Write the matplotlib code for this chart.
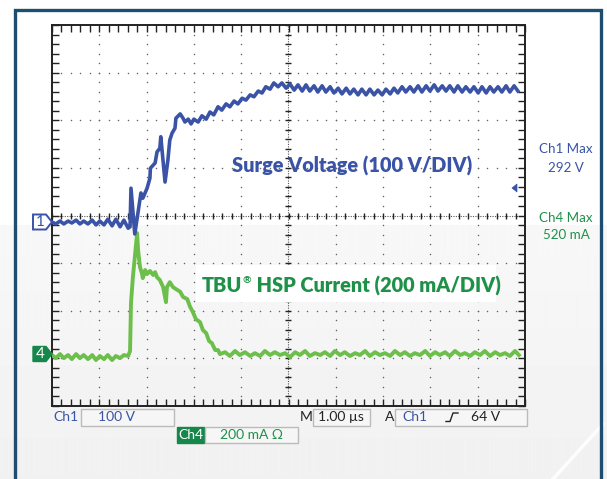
import numpy as np
import matplotlib
matplotlib.use("Agg")
import matplotlib.pyplot as plt
from matplotlib.patches import Rectangle, Polygon

# scope readings: time in us (0 = centre), Ch1 in V, Ch4 in mA
ch1_t = [-5.00, -4.92, -4.83, -4.75, -4.66, -4.58, -4.49, -4.41, -4.33, -4.24,
         -4.15, -4.07, -3.99, -3.90, -3.82, -3.73, -3.65, -3.56, -3.48, -3.39,
         -3.35, -3.33, -3.25, -3.18, -3.12, -3.08, -2.99, -2.93, -2.92, -2.82,
         -2.78, -2.72, -2.70, -2.61, -2.55, -2.51, -2.46, -2.40, -2.38, -2.29,
         -2.23, -2.19, -2.12, -2.06, -2.00, -1.91, -1.83, -1.74, -1.66, -1.58,
         -1.49, -1.41, -1.32, -1.24, -1.15, -1.07, -0.98, -0.90, -0.81, -0.73,
         -0.64, -0.56, -0.48, -0.39, -0.31, -0.22, -0.14, -0.05,
         0.03, 0.12, 0.20, 0.29, 0.37, 0.45, 0.54, 0.62, 0.71, 0.79,
         0.88, 0.96, 1.05, 1.13, 1.22, 1.30, 1.38, 1.47, 1.55, 1.64,
         1.72, 1.81, 1.89, 1.98, 2.06, 2.15, 2.23, 2.31, 2.40, 2.48,
         2.57, 2.65, 2.74, 2.82, 2.91, 2.99, 3.08, 3.16, 3.25, 3.33,
         3.41, 3.50, 3.58, 3.67, 3.75, 3.84, 3.92, 4.01, 4.09, 4.18,
         4.26, 4.34, 4.43, 4.51, 4.60, 4.68, 4.77, 4.85]
ch1_v = [0, -4, 2, -4, 2, -2, 4, -4, 2, -4,
         4, -6, 2, -6, 6, -8, 6, -10, 4, -13,
         -10, 71, -25, 21, 61, 50, 71, 92, 113, 124,
         147, 155, 179, 84, 130, 172, 187, 197, 218, 227,
         218, 210, 216, 206, 216, 210, 223, 216, 231, 225,
         242, 235, 248, 242, 254, 248, 260, 256, 267, 263,
         275, 271, 284, 279, 292, 284, 292, 281,
         290, 277, 288, 275, 288, 275, 286, 273, 286, 273,
         284, 271, 281, 269, 281, 269, 279, 267, 279, 267,
         279, 267, 277, 267, 279, 269, 281, 271, 284, 273,
         284, 273, 286, 273, 286, 275, 288, 275, 286, 275,
         286, 273, 286, 273, 284, 273, 284, 271, 284, 271,
         284, 273, 284, 273, 286, 273, 286, 275]

ch4_t = [-5.00, -4.92, -4.83, -4.75, -4.66, -4.58, -4.49, -4.41, -4.33, -4.24,
         -4.15, -4.07, -3.99, -3.90, -3.82, -3.73, -3.65, -3.56, -3.48,
         -3.39, -3.35, -3.33, -3.29, -3.20, -3.18, -3.14, -3.10, -3.08, -3.03,
         -2.99, -2.93, -2.86, -2.82, -2.78, -2.72, -2.65, -2.59, -2.57, -2.51,
         -2.44, -2.38, -2.29, -2.23, -2.14, -2.08, -2.02, -1.96, -1.87, -1.81,
         -1.74, -1.68, -1.62, -1.55, -1.49, -1.45,
         -1.34, -1.24, -1.13, -1.03, -0.92, -0.81, -0.71, -0.60, -0.50, -0.39,
         -0.29, -0.18, -0.07, 0.03, 0.14, 0.24, 0.35, 0.45, 0.56, 0.67,
         0.77, 0.88, 0.98, 1.09, 1.19, 1.30, 1.41, 1.51, 1.62, 1.72,
         1.83, 1.93, 2.04, 2.15, 2.25, 2.36, 2.46, 2.57, 2.67, 2.78,
         2.89, 2.99, 3.10, 3.20, 3.31, 3.41, 3.52, 3.63, 3.73, 3.84,
         3.94, 4.05, 4.15, 4.26, 4.37, 4.47, 4.58, 4.68, 4.79, 4.87]
ch4_i = [-4, -17, 0, -17, -4, -21, 0, -17, -4, -21,
         -4, -25, -8, -21, -4, -25, -8, -17, -4,
         -8, 13, 214, 323, 508, 437, 365, 340, 319, 353,
         336, 349, 332, 344, 323, 311, 281, 218, 281, 302,
         281, 273, 262, 240, 231, 198, 176, 147, 134, 101,
         88, 55, 46, 17, 17, 0,
         8, -8, 13, -4, 8, -8, 4, -8, 13, -4,
         8, -4, 4, -13, 8, -4, 13, -8, 4, -4,
         8, -8, 13, -4, 8, -8, 4, -4, 13, -8,
         8, -4, 4, -8, 13, -4, 8, -8, 4, -4,
         13, -8, 8, -4, 8, -8, 13, -4, 4, -8,
         8, -4, 13, -8, 8, -4, 4, -8, 13, -4]

ch1_scale = 100.0   # V/div
ch4_scale = 200.0   # mA/div
ch1_pos = -0.137    # div
ch4_pos = -2.91     # div

W, H = 607, 479
BLUE = "#3a53a6"
GREEN_TR = "#6cbf4a"
GREEN_TX = "#1e9148"
FONT = ["Lato", "DejaVu Sans"]


def fx(x):
    return x / W


def fy(y):
    return 1 - y / H


fig = plt.figure(figsize=(W / 100, H / 100), dpi=100)
fig.patch.set_facecolor("white")
renderer = fig.canvas.get_renderer()

# background shading
bg = fig.add_axes([0, 0, 1, 1], zorder=-5)
rows = np.ones(H)
rows[225:] = np.linspace(0.972, 0.945, H - 225)
bg.imshow(np.repeat(rows[:, None], 4, axis=1), cmap="gray", vmin=0, vmax=1,
          aspect="auto", extent=[0, 1, 0, 1])
bg.plot([fx(553), fx(603)], [fy(479), fy(424)], color="white", lw=2.5, alpha=0.9)
bg.set_xlim(0, 1)
bg.set_ylim(0, 1)
bg.axis("off")

# outer frame
fig.add_artist(Rectangle((fx(14.5), fy(490)), fx(601) - fx(14.5), fy(9.5) - fy(490),
                         transform=fig.transFigure, fill=False, ec="#1d4e70", lw=2.4))

ax = fig.add_axes([fx(52), fy(406), fx(525) - fx(52), fy(25) - fy(406)])
ax.set_facecolor("none")
ax.set_xlim(-5, 5)
ax.set_ylim(-4, 4)
for s in ax.spines.values():
    s.set_color("#222222")
    s.set_linewidth(1.4)
ax.set_xticks(np.arange(-5, 5.01, 0.2))
ax.set_yticks(np.arange(-4, 4.01, 0.2))
ax.tick_params(direction="in", length=5, width=1, color="#222222",
               top=True, right=True, labelbottom=False, labelleft=False)

# grid dots
minor_x = np.arange(-5, 5.01, 0.2)
minor_y = np.arange(-4, 4.01, 0.2)
for k in [-4, -3, -2, -1, 1, 2, 3, 4]:
    ax.scatter(np.full(len(minor_y), k), minor_y, s=1.2, color="#666666", lw=0, zorder=1)
for k in [-3, -2, -1, 1, 2, 3]:
    ax.scatter(minor_x, np.full(len(minor_x), k), s=1.2, color="#666666", lw=0, zorder=1)
ax.axhline(0, color="#555555", lw=0.8, ls=(0, (1, 1.2)), zorder=1)
ax.axvline(0, color="#555555", lw=0.8, ls=(0, (1, 1.2)), zorder=1)
ax.plot(minor_x, np.zeros(len(minor_x)), ls="none", marker="|", ms=5, mew=1,
        color="#222222", zorder=1)
ax.plot(np.zeros(len(minor_y)), minor_y, ls="none", marker="_", ms=5, mew=1,
        color="#222222", zorder=1)

# label box behind the current caption
fig.add_artist(Rectangle((fx(196), fy(302)), fx(496) - fx(196), fy(265) - fy(302),
                         transform=fig.transFigure, fc="white", ec="none", zorder=2))

ch1_div = [ch1_pos + v / ch1_scale for v in ch1_v]
ch4_div = [ch4_pos + i / ch4_scale for i in ch4_i]
ax.plot(ch4_t, ch4_div, color=GREEN_TR, lw=2.8, solid_joinstyle="round", zorder=3)
ax.plot(ch1_t, ch1_div, color=BLUE, lw=2.6, solid_joinstyle="round", zorder=4)

cap = 14.3
fig.text(fx(232), fy(166), "Surge Voltage (100 V/DIV)", color=BLUE, fontsize=cap,
         fontweight="heavy", family=FONT, va="center", ha="left", zorder=5)

# TBU(R) caption, with the registered sign raised
t1 = fig.text(fx(202), fy(286), "TBU", color=GREEN_TX, fontsize=cap,
              fontweight="heavy", family=FONT, va="center", ha="left", zorder=5)
x_next = t1.get_window_extent(renderer).x1
t2 = fig.text(x_next / W + 0.001, fy(281), "\u00ae", color=GREEN_TX, fontsize=7.5,
              fontweight="bold", family=FONT, va="center", ha="left", zorder=5)
x_next = t2.get_window_extent(renderer).x1
fig.text(x_next / W, fy(286), " HSP Current (200 mA/DIV)", color=GREEN_TX,
         fontsize=cap, fontweight="heavy", family=FONT, va="center", ha="left", zorder=5)

# channel markers
fig.add_artist(Polygon([(fx(33), fy(214.5)), (fx(46), fy(214.5)), (fx(52), fy(222)),
                        (fx(46), fy(229.5)), (fx(33), fy(229.5))],
                       transform=fig.transFigure, fc="white", ec=BLUE, lw=1.4))
fig.text(fx(40), fy(222), "1", color=BLUE, fontsize=11, family=FONT, ha="center", va="center")
fig.add_artist(Polygon([(fx(33), fy(346.5)), (fx(46), fy(346.5)), (fx(52), fy(354)),
                        (fx(46), fy(361.5)), (fx(33), fy(361.5))],
                       transform=fig.transFigure, fc="#16864a", ec="#16864a", lw=1))
fig.text(fx(40), fy(354), "4", color="white", fontsize=11, family=FONT, ha="center", va="center")

# trigger level marker
fig.add_artist(Polygon([(fx(512), fy(188)), (fx(517), fy(184)), (fx(517), fy(192))],
                       transform=fig.transFigure, fc=BLUE, ec=BLUE, lw=0.5))

# right side readouts
rs = 9.6
fig.text(fx(566), fy(149), "Ch1 Max", color=BLUE, fontsize=rs, family=FONT, ha="center", va="center")
fig.text(fx(566), fy(168), "292 V", color=BLUE, fontsize=rs, family=FONT, ha="center", va="center")
fig.text(fx(566), fy(218), "Ch4 Max", color=GREEN_TX, fontsize=rs, family=FONT, ha="center", va="center")
fig.text(fx(566), fy(235), "520 mA", color=GREEN_TX, fontsize=rs, family=FONT, ha="center", va="center")


def box(x0, y0, x1, y1, fc="#f6f6f6", ec="#bbbbbb"):
    fig.add_artist(Rectangle((fx(x0), fy(y1)), fx(x1) - fx(x0), fy(y0) - fy(y1),
                             transform=fig.transFigure, fc=fc, ec=ec, lw=1))


box(81, 409, 174, 426)
box(313, 409, 370, 426)
box(395, 409, 527, 426)
box(177, 427, 204, 443, fc="#16864a", ec="#16864a")
box(205, 427, 298, 443)
fs = 10
fig.text(fx(53), fy(417), "Ch1", color=BLUE, fontsize=fs, family=FONT, va="center")
fig.text(fx(117), fy(417), "100 V", color=BLUE, fontsize=fs, family=FONT, ha="center", va="center")
fig.text(fx(300), fy(417), "M", color="#222222", fontsize=fs, family=FONT, va="center")
fig.text(fx(341), fy(417), "1.00 \u00b5s", color="#222222", fontsize=fs, family=FONT, ha="center", va="center")
fig.text(fx(385), fy(417), "A", color="#222222", fontsize=fs, family=FONT, va="center")
fig.text(fx(402), fy(417), "Ch1", color=BLUE, fontsize=fs, family=FONT, va="center")
fig.add_artist(plt.Line2D([fx(446), fx(450), fx(453), fx(458)],
                          [fy(421.5), fy(421.5), fy(413), fy(413)],
                          transform=fig.transFigure, color="#222222", lw=1))
fig.text(fx(471), fy(417), "64 V", color="#222222", fontsize=fs, family=FONT, va="center")
fig.text(fx(190.5), fy(435), "Ch4", color="white", fontsize=fs, family=FONT, ha="center", va="center")
fig.text(fx(252), fy(435), "200 mA \u03a9", color=GREEN_TX, fontsize=fs, family=FONT, ha="center", va="center")

fig.savefig("out.png", dpi=100)
